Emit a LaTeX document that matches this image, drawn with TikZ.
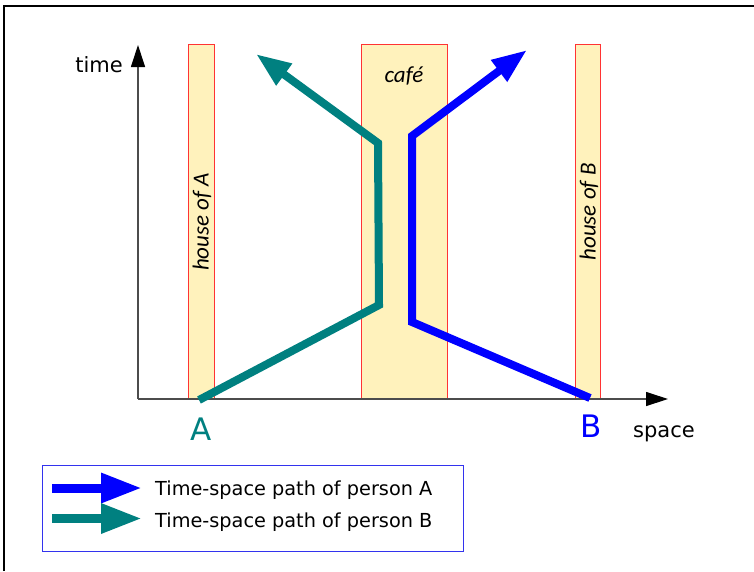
\documentclass[tikz,border=0pt]{standalone}
\usepackage{fontspec}
\setmainfont{DejaVu Sans}
\newfontfamily\carl{Carlito}
\usetikzlibrary{arrows.meta}
\definecolor{tealc}{HTML}{008080}
\definecolor{bluec}{HTML}{0000FF}
\definecolor{housefill}{HTML}{FFF2BC}
\definecolor{houseline}{HTML}{FF3333}
\definecolor{legline}{HTML}{3333EE}
\tikzset{
  house/.style={draw=houseline, fill=housefill, line width=0.9pt, inner sep=0pt, minimum height=355pt},
  axis/.style={draw=black!70, line width=1.2pt, -{Triangle[length=22pt,width=14pt,color=black,fill=black]}},
  pathA/.style={draw=bluec, line width=8pt, line join=miter, -{Triangle[length=35pt,width=25pt]}},
  pathB/.style={draw=tealc, line width=8pt, line join=miter, -{Triangle[length=35pt,width=25pt]}},
  legarrow/.style={line width=9pt, -{Triangle[length=41pt,width=28pt]}},
  axlabel/.style={font=\fontsize{21}{25}\selectfont, anchor=base, inner sep=0pt},
  ptlabel/.style={font=\fontsize{31}{36}\selectfont, anchor=base, inner sep=0pt},
  itlabel/.style={font=\carl\itshape\fontsize{23}{27}\selectfont, inner sep=0pt},
  legtext/.style={font=\fontsize{19.3}{23}\selectfont, anchor=base west, inner sep=0pt},
}
\begin{document}
\begin{tikzpicture}[x=1pt,y=-1pt]
\useasboundingbox (0,0) rectangle (754,571);
% frame (top and left)
\draw[black, line width=1.5pt] (4,571) -- (4,6) -- (754,6);
% houses
\node[house, minimum width=26pt] (hA) at (201,221.5) {};
\node[house, minimum width=86pt] (cafe) at (404,221.5) {};
\node[house, minimum width=25pt] (hB) at (587.5,221.5) {};
\node[itlabel, rotate=90] (lhA) at (202,222) {house of A};
\node[itlabel, rotate=90] (lhB) at (589,212) {house of B};
\node[itlabel, anchor=base] (lcafe) at (404,82) {café};
% axes
\coordinate (O) at (138,399);
\coordinate (T) at (138,45);
\coordinate (S) at (668,399);
\draw[axis] (O) -- (T);
\draw[axis] (O) -- (S);
\node[axlabel] (ltime) at (99,72) {time};
\node[axlabel] (lspace) at (664,437) {space};
% paths
\coordinate (a0) at (590,398);
\coordinate (a1) at (412,322);
\coordinate (a2) at (412,136);
\coordinate (a3) at (527,50);
\coordinate (b0) at (199,400);
\coordinate (b1) at (379,305);
\coordinate (b2) at (378,143);
\coordinate (b3) at (256,54);
\draw[pathB] (b0) -- (b1) -- (b2) -- (b3);
\draw[pathA] (a0) -- (a1) -- (a2) -- (a3);
\node[ptlabel, text=tealc] (lA) at (201,440) {A};
\node[ptlabel, text=bluec] (lB) at (591,437) {B};
% legend
\node[draw=legline, line width=1pt, minimum width=421pt, minimum height=86pt, inner sep=0pt] (leg) at (252.5,508) {};
\coordinate (la0) at (52,488);
\coordinate (la1) at (142,488);
\coordinate (lb0) at (52,518.5);
\coordinate (lb1) at (142,518.5);
\draw[legarrow, bluec] (la0) -- (la1);
\draw[legarrow, tealc] (lb0) -- (lb1);
\node[legtext] (tA) at (155,495) {Time-space path of person A};
\node[legtext] (tB) at (155,527) {Time-space path of person B};
\end{tikzpicture}
\end{document}
